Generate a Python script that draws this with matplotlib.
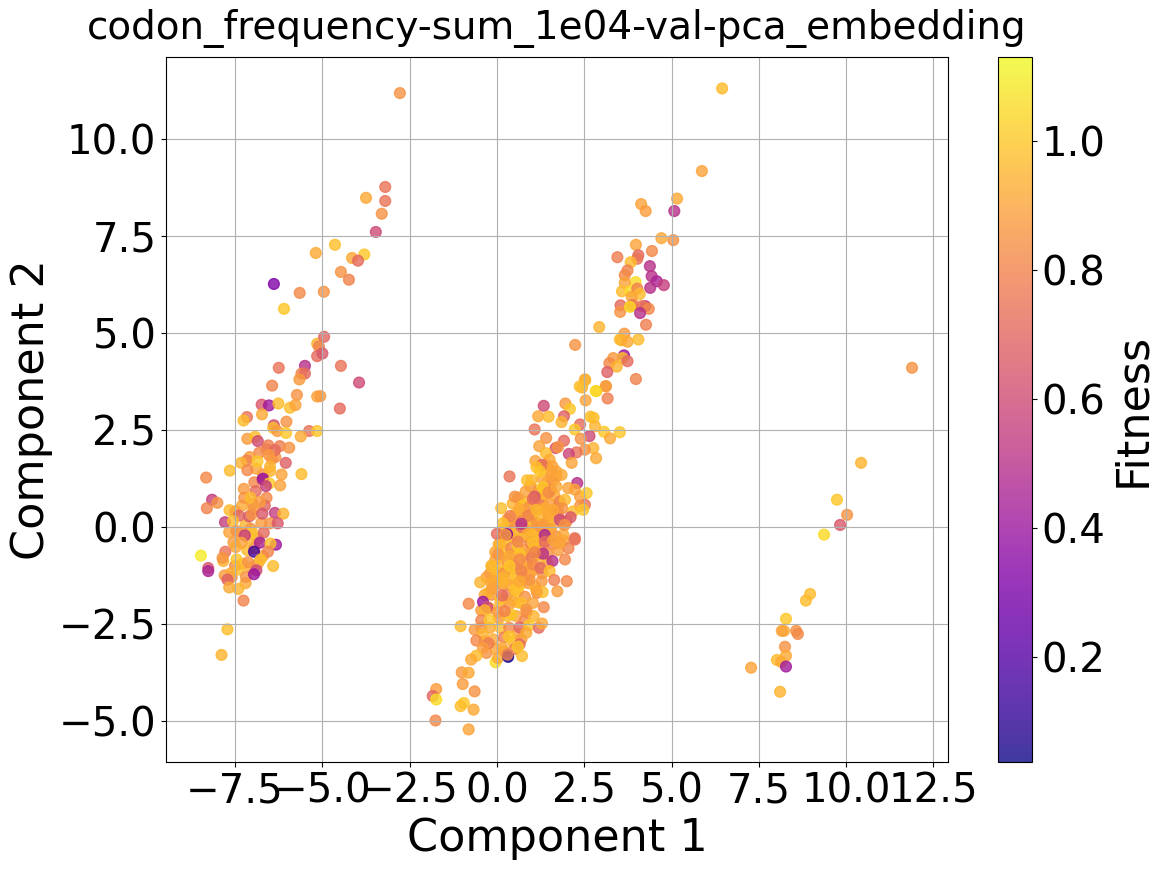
import matplotlib
matplotlib.use("Agg")
import matplotlib.pyplot as plt
import numpy as np

# left arm, upper part
upper_left_x = [-2.78,-3.2,-3.2,-3.3,-3.47,-3.75,-3.8,-4.15,-3.98,-4.64,-5.19,-4.47,-4.24,-4.96,-5.65,-6.39,-6.1,-5.15,-4.95,-5.1,-5.15,-5.0,-4.47,-3.95,-4.5,-5.15,-5.5,-5.6,-5.5,-6.25]
upper_left_y = [11.18,8.76,8.4,8.07,7.6,8.48,7.02,6.93,6.86,7.27,7.06,6.57,6.37,6.06,6.03,6.26,5.62,4.72,4.9,4.65,4.4,4.47,4.15,3.72,3.05,3.36,4.15,3.95,3.95,4.1]
upper_left_f = [0.85,0.75,0.75,0.85,0.6,0.92,1.0,0.92,0.72,0.98,0.92,0.85,0.8,0.85,0.82,0.32,1.0,0.95,0.7,0.8,0.72,0.65,0.75,0.6,0.72,0.9,0.5,0.8,0.72,0.75]

# left arm, dense part
left_x = [-6.44,-5.73,-5.66,-5.06,-6.74,-6.53,-6.26,-5.93,-5.77,-7.16,-7.26,-6.73,-6.03,-6.39,-6.41,-6.29,-6.04,-5.38,-5.15,-5.62,-7.15,-6.93,-6.85,-6.55,-6.22,-6.36,-5.95,-6.81,-6.53,-7.08,-7.17,-7.33,-6.86,-6.05,-7.15,-7.65,-6.5,-6.5,-6.17,-5.6,-8.33,-6.72,-6.7,-6.52,-6.62,-6.21,-6.91,-7.25,-7.24,-7.06,-6.79,-8.16,-8.01,-8.31,-7.66,-7.49,-6.98,-7.39,-7.1,-7.02,-6.72,-6.36,-6.12,-7.79,-7.56,-7.67,-7.46,-6.5,-6.28,-7.01,-6.68,-7.22,-7.32,-6.79,-6.33,-7.48,-6.49,-6.56,-6.96,-8.48,-7.78,-7.84,-7.86,-7.46,-6.77,-7.13,-6.41,-8.27,-8.27,-7.8,-7.61,-7.72,-7.39,-7.19,-6.89,-6.96,-7.67,-7.41,-7.26,-7.72,-7.89]
left_y = [3.64,3.4,3.8,3.37,3.15,3.13,3.18,3.07,3.14,2.83,2.74,2.9,2.71,2.62,2.55,2.47,2.42,2.47,2.47,2.33,2.27,2.32,2.21,2.1,2.08,1.98,2.04,1.91,1.85,1.8,1.71,1.65,1.69,1.65,1.46,1.45,1.55,1.44,1.35,1.36,1.27,1.22,1.24,1.12,1.05,1.07,0.92,0.98,0.75,0.75,0.64,0.7,0.62,0.48,0.43,0.4,0.45,0.29,0.27,0.32,0.34,0.36,0.34,0.12,0.15,-0.14,-0.11,0.09,0.09,-0.15,-0.15,-0.22,-0.41,-0.41,-0.46,-0.52,-0.43,-0.64,-0.64,-0.74,-0.64,-0.88,-0.8,-0.84,-0.84,-0.91,-1.01,-1.06,-1.14,-1.25,-1.19,-1.36,-1.1,-1.29,-1.12,-1.22,-1.56,-1.6,-1.9,-2.64,-3.3]
left_f = [0.8,0.85,0.87,0.87,0.65,0.42,0.97,0.98,0.9,0.75,0.97,0.92,0.85,0.62,0.97,0.88,1.0,0.75,1.0,0.92,0.88,0.98,0.6,0.78,0.78,0.72,0.85,0.82,0.87,0.88,0.8,0.95,1.0,0.68,0.82,0.97,0.95,0.95,0.9,0.97,0.82,0.62,0.4,1.0,0.55,0.9,0.72,0.87,0.85,0.97,0.88,0.55,0.85,0.8,0.97,0.9,0.88,0.7,0.65,0.85,0.65,0.55,0.95,0.55,0.97,0.9,0.85,0.85,0.65,1.0,0.72,0.55,0.9,0.45,0.42,0.92,0.98,0.8,0.15,1.1,0.75,0.95,0.85,1.0,0.97,0.85,0.97,0.65,0.45,0.88,0.92,0.68,0.97,0.85,0.6,0.4,0.92,0.95,0.8,0.98,0.95]

# extra points filling the left arm
left2_x = [-6.7,-6.9,-6.45,-7.0,-7.3,-6.6,-6.75,-7.2,-7.05,-6.85,-7.35,-7.55,-7.15,-6.95,-6.7,-7.3,-7.5,-7.05,-6.85,-7.6,-7.2,-6.6,-6.35,-6.65,-6.95,-7.1]
left2_y = [1.35,1.5,1.75,0.6,0.55,0.75,0.1,0.05,-0.05,-0.3,-0.15,-0.4,-0.6,-0.55,-0.75,-0.95,-1.0,-1.05,-0.95,-1.3,-1.45,2.0,1.8,0.55,1.15,-0.3]
left2_f = [0.85,0.9,0.82,0.8,0.92,0.82,0.88,0.95,0.85,0.78,0.92,0.88,0.97,0.85,0.9,0.95,0.82,0.92,0.88,0.85,0.92,0.75,0.85,0.7,0.82,0.95]

# central cluster, upper half
mid_x = [2.52,2.44,3.12,2.85,3.17,2.54,1.34,1.96,2.09,1.18,1.48,1.92,1.85,2.68,2.77,2.81,2.38,2.23,1.08,2.65,3.07,3.24,3.52,1.41,1.92,2.4,1.21,1.68,1.75,2.76,2.52,2.28,2.06,1.4,2.84,1.51,1.29,1.13,2.14,1.59,1.7,1.23,1.56,1.85,0.36,2.3,0.99,0.86,1.32,1.48,0.82,0.51,1.08,1.03,2.23,2.38,2.57,1.7,2.04,2.52,2.38,0.12,0.38,0.63,0.89,1.87,2.18,2.47,1.61,1.37,1.13,1.47,1.8,2.11,0.7,0.17,1.94,1.32,0.0,0.29,0.25,1.37,2.23,0.6,1.37,0.08,0.94,1.61,1.8,1.03]
mid_y = [3.8,3.59,3.63,3.5,3.31,3.26,3.12,3.18,3.04,2.85,2.84,2.85,2.7,2.84,2.81,2.59,2.64,2.51,2.51,2.34,2.45,2.28,2.44,2.29,2.22,2.27,2.08,2.03,2.06,2.03,1.99,1.92,1.88,1.9,1.77,1.73,1.6,1.54,1.65,1.56,1.43,1.43,1.34,1.34,1.3,1.13,1.2,1.2,1.02,0.89,0.91,0.78,0.78,0.72,0.96,0.78,0.87,1.04,1.0,0.57,0.54,0.48,0.28,0.46,0.28,0.48,0.4,0.44,0.44,0.48,0.44,0.3,0.18,0.25,0.08,0.09,0.05,0.05,-0.18,-0.19,-0.21,-0.21,-0.29,-0.38,-0.39,-0.47,-0.25,-0.34,-0.42,-0.42]
mid_f = [0.9,0.95,0.87,1.0,0.78,0.9,0.6,0.87,1.0,0.92,0.97,0.68,0.95,0.98,0.98,0.95,0.72,1.0,0.75,0.6,1.0,0.92,1.0,0.85,0.72,0.85,0.9,0.65,0.85,0.95,0.85,0.75,0.58,0.97,0.92,0.92,0.72,0.98,0.9,0.9,0.9,1.0,0.9,0.92,0.75,0.5,0.95,0.98,1.0,0.82,0.9,0.85,0.65,0.72,0.9,0.88,1.0,0.92,0.9,0.75,0.85,0.98,0.78,0.92,0.8,0.85,0.97,1.0,0.92,0.92,0.95,0.92,0.6,0.65,0.5,0.98,0.85,0.88,0.72,0.3,0.88,0.45,0.75,0.8,0.72,0.95,0.95,0.9,0.9,0.97]

# central cluster, lower half
low_x = [2.23,1.32,1.08,1.95,1.59,0.03,0.36,0.65,-0.16,1.03,1.25,1.51,0.36,0.7,0.94,1.64,2.0,-0.48,1.28,-0.07,0.17,0.51,1.73,1.31,0.17,-0.16,-0.15,0.15,0.65,-0.81,-0.4,-0.28,0.7,1.03,1.34,1.13,-0.35,0.03,0.41,0.22,0.84,-0.45,-0.21,-1.04,-0.64,0.65,0.92,1.2,1.29,0.84,-0.4,-0.59,0.34,-0.24,0.65,0.6,-0.4,0.15,-0.59,-0.74,-0.04,0.03,0.32,0.3,0.72,-1.01,-0.81,-0.98,-0.64,-1.74,-1.84,-1.74,-0.95,-1.04,-0.67,-1.76,-0.81]
low_y = [-0.33,-0.69,-0.66,-0.84,-0.88,-0.71,-0.76,-0.84,-1.01,-0.97,-1.06,-1.14,-1.01,-1.14,-1.37,-1.37,-1.4,-1.43,-1.4,-1.4,-1.31,-1.62,-1.66,-1.68,-1.43,-1.43,-1.6,-1.77,-1.4,-1.98,-1.93,-2.07,-1.96,-1.96,-2.07,-1.64,-2.15,-2.2,-2.26,-2.17,-2.13,-2.41,-2.41,-2.56,-2.65,-2.59,-2.54,-2.6,-2.49,-2.73,-2.77,-2.93,-2.83,-3.0,-3.03,-3.09,-3.12,-3.12,-3.32,-3.42,-3.49,-3.38,-3.35,-3.29,-3.33,-3.75,-3.76,-4.05,-4.24,-4.18,-4.36,-4.45,-4.54,-4.62,-4.71,-4.99,-5.22]
low_f = [0.75,0.5,0.8,0.82,0.5,0.85,0.92,0.82,0.97,0.82,0.72,0.97,1.0,0.8,0.85,0.78,0.82,0.95,0.87,0.9,0.95,0.98,0.88,0.98,0.95,0.92,0.9,0.72,0.92,0.82,0.4,0.62,0.97,0.9,0.82,0.9,0.95,0.88,1.0,0.8,0.85,0.8,1.0,0.97,0.87,0.7,1.0,0.72,0.92,0.92,0.95,0.82,1.0,0.78,0.72,1.0,0.88,0.92,0.97,0.92,1.05,0.92,0.05,0.78,0.97,0.87,0.92,0.88,0.85,0.88,0.7,1.05,1.0,0.98,0.92,0.82,0.9]

# fill of the dense centre
core_x = [0.45,0.6,0.75,0.9,1.05,1.2,1.35,1.5,1.65,1.8,0.3,0.5,0.7,0.85,1.0,1.15,1.3,1.45,1.6,1.75,0.2,0.35,0.55,0.7,0.9,1.05,1.25,1.4,1.55,0.05,0.25,0.4,0.6,0.8,0.95,1.1,1.3,1.45,-0.05,0.1,0.3,0.5,0.65,0.85,1.0,1.2,-0.2,0.0,0.2,0.35,0.55,0.75,0.95,-0.25,-0.1,0.1,0.3,0.45,0.6,0.8,1.1,1.75,1.9,2.05,1.95]
core_y = [0.6,0.75,0.55,0.5,0.65,0.7,0.85,0.6,0.8,0.65,0.2,0.3,0.15,0.25,0.2,0.1,0.25,0.15,0.2,0.35,-0.05,-0.1,-0.15,0.0,-0.1,-0.2,0.0,-0.15,-0.05,-0.45,-0.35,-0.55,-0.5,-0.6,-0.4,-0.55,-0.5,-0.7,-0.85,-0.75,-0.9,-1.0,-0.7,-0.95,-0.8,-0.9,-1.2,-1.15,-1.2,-1.35,-1.25,-1.3,-1.2,-1.7,-1.55,-1.85,-1.75,-1.9,-1.65,-1.8,-1.55,-0.6,-0.2,-0.55,0.7]
core_f = [0.95,0.88,1.0,0.85,0.92,0.75,0.97,0.88,0.92,0.8,0.9,0.97,0.8,0.92,1.0,0.85,0.95,0.88,0.97,0.78,0.95,0.85,0.98,0.72,0.9,0.97,0.85,1.0,0.9,0.92,0.97,0.82,1.0,0.88,0.78,0.95,0.9,0.85,0.92,0.98,0.87,0.8,1.0,0.92,0.75,0.95,0.88,0.97,0.85,0.92,1.0,0.82,0.9,0.95,0.87,0.98,0.8,0.92,1.0,0.85,0.97,0.88,0.92,0.8,0.97]

# second pass over the dense centre
core2_x = [1.1,1.25,1.4,1.55,1.7,1.3,1.45,1.6,1.2,1.35,1.5,0.95,1.15,1.3,1.55,1.75,0.65,0.8,1.0,1.2,1.45,1.65,1.85,2.0,0.35,0.55,0.75,1.0,1.25,1.5,1.7,1.9,0.15,0.4,0.6,0.85,1.1,1.35,1.6,-0.05,0.2,0.45,0.7,0.95,1.2,1.45,-0.15,0.05,0.3,0.55,0.8,1.05,1.3,-0.3,-0.1,0.15,0.4,0.65,0.9,1.15,-0.35,-0.15,0.1,0.35,0.6,0.85,-0.45,-0.2,0.05,0.3,0.55,0.8,1.05,-0.45,-0.2,0.1,0.35,0.6,-0.35,-0.1,0.2,0.45,0.7,-0.3,-0.05,0.2,0.5]
core2_y = [1.7,1.55,1.6,1.45,1.3,1.25,1.15,1.2,0.95,1.0,0.9,1.05,0.85,0.65,0.95,0.5,0.4,0.65,0.35,0.45,0.4,0.45,0.1,0.15,0.1,0.05,-0.05,0.05,-0.1,-0.05,-0.25,-0.35,-0.25,-0.25,-0.3,-0.25,-0.3,-0.3,-0.45,-0.65,-0.55,-0.7,-0.75,-0.65,-0.7,-0.95,-1.0,-1.0,-1.1,-1.1,-1.05,-1.1,-1.2,-1.3,-1.3,-1.5,-1.5,-1.5,-1.45,-1.7,-1.75,-1.75,-1.95,-2.0,-1.95,-2.2,-2.15,-2.1,-2.35,-2.3,-2.3,-2.4,-2.3,-2.6,-2.6,-2.6,-2.6,-2.75,-2.95,-2.9,-2.85,-2.95,-2.9,-3.25,-3.15,-3.2,-3.15]
core2_f = [0.9,0.95,0.88,0.92,0.85,0.9,0.92,0.85,0.97,0.88,0.92,0.85,0.9,0.95,0.8,0.92,0.88,0.97,0.82,0.92,0.95,0.85,0.9,0.8,0.92,0.85,0.97,0.88,0.92,0.95,0.82,0.88,0.97,0.9,0.82,0.95,0.88,0.92,0.8,0.92,0.97,0.85,0.9,0.95,0.82,0.92,0.88,0.95,0.98,0.82,0.9,0.92,0.85,0.9,0.97,0.85,0.92,0.98,0.88,0.82,0.92,0.85,0.95,0.88,0.97,0.82,0.88,0.92,0.85,0.97,0.9,0.82,0.95,0.85,0.92,0.97,0.82,0.9,0.85,0.92,0.78,0.95,0.88,0.85,0.9,0.92,0.82]

# right arm
arm_x = [5.16,4.13,4.26,5.08,4.71,5.05,3.98,3.45,4.44,4.05,4.02,3.83,4.38,3.74,3.66,4.43,3.97,3.66,4.58,4.78,4.39,3.58,3.83,4.02,4.09,3.86,3.9,3.54,3.85,4.25,4.16,4.35,3.53,3.81,4.1,4.27,2.93,3.65,3.52,3.57,3.74,4.05,2.24,3.64,3.6,3.33,3.74,3.22,3.43,3.16,3.98,2.53,3.12,2.37,2.83,6.45,5.87,11.89]
arm_y = [8.46,8.32,8.14,8.14,7.44,7.39,7.27,6.95,7.11,7.0,6.91,6.82,6.72,6.61,6.49,6.46,6.31,6.29,6.33,6.23,6.16,6.07,6.07,6.14,6.0,5.93,5.73,5.71,5.7,5.69,5.69,5.62,5.54,5.67,5.51,5.21,5.15,4.98,4.83,4.81,4.77,4.83,4.69,4.42,4.35,4.35,4.27,4.22,4.13,3.99,3.81,3.78,3.62,3.62,3.5,11.3,9.17,4.1]
arm_f = [0.92,0.9,0.88,0.5,0.92,0.85,0.9,0.78,0.82,0.72,0.75,0.97,0.5,0.8,0.82,0.5,1.05,0.9,0.45,0.55,0.5,0.97,1.05,0.8,0.97,0.9,0.82,0.72,0.75,0.55,0.75,0.82,0.85,1.05,0.5,0.78,0.95,0.87,0.97,0.95,0.92,0.97,0.85,0.4,0.97,0.87,0.72,0.82,0.95,0.68,0.8,0.95,0.88,0.98,1.05,0.97,0.9,0.85]

# small group on the right
right_x = [10.43,9.74,10.03,9.83,9.37,8.97,8.85,8.28,8.22,8.16,8.57,8.62,8.25,8.28,8.02,8.14,8.28,7.28,8.11]
right_y = [1.65,0.7,0.31,0.05,-0.2,-1.73,-1.9,-2.37,-2.68,-2.68,-2.68,-2.76,-3.09,-3.32,-3.43,-3.48,-3.6,-3.63,-4.25]
right_f = [0.95,1.0,0.85,0.65,1.05,0.97,0.97,1.0,0.92,0.9,0.85,0.82,0.85,0.92,0.97,0.92,0.42,0.9,0.95]

# draw the fill first so the picked out points stay on top
x = np.array(core2_x + left2_x + core_x + upper_left_x + left_x + mid_x + low_x + arm_x + right_x)
y = np.array(core2_y + left2_y + core_y + upper_left_y + left_y + mid_y + low_y + arm_y + right_y)
fitness = np.array(core2_f + left2_f + core_f + upper_left_f + left_f + mid_f + low_f + arm_f + right_f)

W, H = 1165, 872
fig = plt.figure(figsize=(W / 100, H / 100), dpi=100)
ax = fig.add_axes([166 / W, 1 - 762 / H, (948 - 166) / W, (762 - 57) / H])
cax = fig.add_axes([998 / W, 1 - 762 / H, (1032 - 998) / W, (762 - 57) / H])

sc = ax.scatter(x, y, c=fitness, cmap="plasma", vmin=0.037, vmax=1.13, s=60, alpha=0.8)
ax.set_xlim(-9.48, 12.92)
ax.set_ylim(-6.06, 12.11)
ax.set_xticks([-7.5, -5, -2.5, 0, 2.5, 5, 7.5, 10, 12.5])
ax.set_yticks([-5, -2.5, 0, 2.5, 5, 7.5, 10])
ax.tick_params(labelsize=29)
ax.grid(True)
ax.set_xlabel("Component 1", fontsize=32)
ax.set_ylabel("Component 2", fontsize=32)
ax.set_title("codon_frequency-sum_1e04-val-pca_embedding", fontsize=28, pad=13)

cbar = fig.colorbar(sc, cax=cax)
cbar.set_ticks([0.2, 0.4, 0.6, 0.8, 1.0])
cbar.ax.tick_params(labelsize=29)
cbar.set_label("Fitness", fontsize=32)

fig.savefig("out.png", dpi=100)
